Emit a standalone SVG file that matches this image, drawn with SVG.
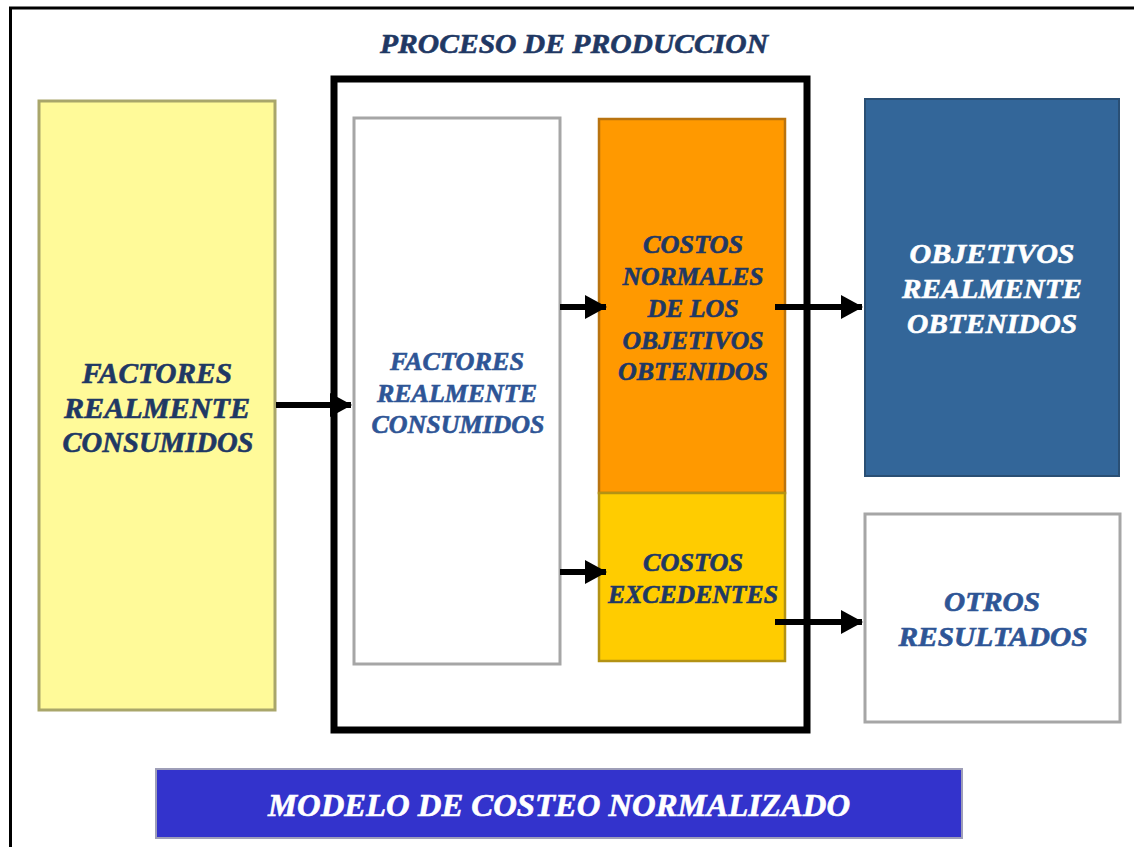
<svg xmlns="http://www.w3.org/2000/svg" width="1134" height="847" viewBox="0 0 1134 847">
<defs>
<style>
text{font-family:"Liberation Serif","Times New Roman",serif;font-weight:bold;font-style:italic;text-anchor:middle;stroke-width:0.6}
.navy{fill:#1F3864;stroke:#1F3864}
.blue{fill:#2E5596;stroke:#2E5596}
.white{fill:#FFFFFF;stroke:#FFFFFF}
.conn{stroke:#000;stroke-width:6;fill:none}
</style>
<marker id="arr" markerUnits="userSpaceOnUse" markerWidth="22" markerHeight="24" refX="21" refY="12" orient="auto">
<path d="M0,0 L22,12 L0,24 Z" fill="#000"/>
</marker>
</defs>
<rect width="1134" height="847" fill="#fff"/>
<g id="frame">
<path d="M1134,8 L10.5,8 L10.5,847" fill="none" stroke="#000" stroke-width="3"/>
</g>
<g id="title">
<text x="574" y="53" font-size="28" class="navy" textLength="388" lengthAdjust="spacingAndGlyphs">PROCESO DE PRODUCCION</text>
</g>
<g id="proceso">
<rect x="334" y="79" width="473" height="651" fill="#fff" stroke="#000" stroke-width="7"/>
</g>
<g id="factores-consumidos-ext">
<rect x="39" y="101" width="236" height="609" fill="#FFFA99" stroke="#A9A66A" stroke-width="3"/>
<text x="157" y="383" font-size="29" class="navy" textLength="150" lengthAdjust="spacingAndGlyphs">FACTORES</text>
<text x="157" y="418" font-size="29" class="navy" textLength="186" lengthAdjust="spacingAndGlyphs">REALMENTE</text>
<text x="158" y="452" font-size="29" class="navy" textLength="191" lengthAdjust="spacingAndGlyphs">CONSUMIDOS</text>
</g>
<g id="factores-consumidos-int">
<rect x="354" y="118" width="206" height="546" fill="#fff" stroke="#A6A6A6" stroke-width="3"/>
<text x="457" y="370" font-size="26" class="blue" textLength="134" lengthAdjust="spacingAndGlyphs">FACTORES</text>
<text x="457" y="402" font-size="26" class="blue" textLength="160" lengthAdjust="spacingAndGlyphs">REALMENTE</text>
<text x="458" y="433" font-size="26" class="blue" textLength="173" lengthAdjust="spacingAndGlyphs">CONSUMIDOS</text>
</g>
<g id="costos-normales">
<rect x="599" y="119" width="186" height="374" fill="#FF9900" stroke="#B9730F" stroke-width="2.5"/>
<text x="693" y="253" font-size="25" class="navy" textLength="100" lengthAdjust="spacingAndGlyphs">COSTOS</text>
<text x="693" y="285" font-size="25" class="navy" textLength="141" lengthAdjust="spacingAndGlyphs">NORMALES</text>
<text x="693" y="317" font-size="25" class="navy" textLength="91" lengthAdjust="spacingAndGlyphs">DE LOS</text>
<text x="693" y="349" font-size="25" class="navy" textLength="141" lengthAdjust="spacingAndGlyphs">OBJETIVOS</text>
<text x="693" y="380" font-size="25" class="navy" textLength="150" lengthAdjust="spacingAndGlyphs">OBTENIDOS</text>
</g>
<g id="costos-excedentes">
<rect x="599" y="493" width="186" height="168" fill="#FFCC00" stroke="#B39214" stroke-width="2.5"/>
<text x="693" y="571" font-size="25" class="navy" textLength="100" lengthAdjust="spacingAndGlyphs">COSTOS</text>
<text x="693" y="603" font-size="25" class="navy" textLength="170" lengthAdjust="spacingAndGlyphs">EXCEDENTES</text>
</g>
<g id="objetivos-obtenidos">
<rect x="865" y="99" width="254" height="377" fill="#336699" stroke="#2A4F74" stroke-width="2"/>
<text x="992" y="263" font-size="28" class="white" textLength="165" lengthAdjust="spacingAndGlyphs">OBJETIVOS</text>
<text x="992" y="298" font-size="28" class="white" textLength="180" lengthAdjust="spacingAndGlyphs">REALMENTE</text>
<text x="992" y="333" font-size="28" class="white" textLength="170" lengthAdjust="spacingAndGlyphs">OBTENIDOS</text>
</g>
<g id="otros-resultados">
<rect x="865" y="514" width="255" height="208" fill="#fff" stroke="#A6A6A6" stroke-width="3"/>
<text x="992" y="611" font-size="27" class="blue" textLength="96" lengthAdjust="spacingAndGlyphs">OTROS</text>
<text x="993" y="646" font-size="27" class="blue" textLength="189" lengthAdjust="spacingAndGlyphs">RESULTADOS</text>
</g>
<g id="modelo">
<rect x="156" y="769" width="806" height="69" fill="#3333CC" stroke="#9E9EB8" stroke-width="2"/>
<text x="559" y="816" font-size="31" class="white" textLength="582" lengthAdjust="spacingAndGlyphs">MODELO DE COSTEO NORMALIZADO</text>
</g>
<g id="connectors">
<line class="conn" x1="276" y1="405" x2="351" y2="405" marker-end="url(#arr)"/>
<line class="conn" x1="560" y1="307" x2="606" y2="307" marker-end="url(#arr)"/>
<line class="conn" x1="560" y1="572" x2="606" y2="572" marker-end="url(#arr)"/>
<line class="conn" x1="775" y1="307" x2="862" y2="307" marker-end="url(#arr)"/>
<line class="conn" x1="775" y1="622" x2="862" y2="622" marker-end="url(#arr)"/>
</g>
</svg>
